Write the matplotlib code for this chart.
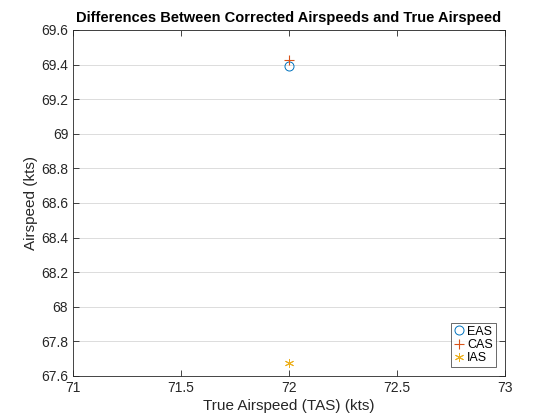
import matplotlib
matplotlib.use("Agg")
import matplotlib.pyplot as plt
from matplotlib.ticker import FuncFormatter, MultipleLocator

plt.rcParams['font.family'] = ['Liberation Sans', 'DejaVu Sans']

tas = [72.0]
eas = [69.39]
cas = [69.425]
ias = [67.675]

fig = plt.figure(figsize=(5.6, 4.2), dpi=100)
ax = fig.add_axes([73/560, 1 - 376/420, (505-73)/560, (376-30)/420])

ax.plot(tas, eas, linestyle='none', marker='o', markersize=6.5, markerfacecolor='none',
        markeredgecolor='#0072BD', markeredgewidth=0.7, label='EAS')
ax.plot(tas, cas, linestyle='none', marker='+', markersize=7, color='#D95319',
        markeredgewidth=0.8, label='CAS')
ax.plot(tas, ias, linestyle='none', marker=(6, 2, 0), markersize=6.5, color='#EDB120',
        markeredgewidth=0.7, label='IAS')

ax.set_xlim(71, 73)
ax.set_ylim(67.6, 69.6)
ax.xaxis.set_major_locator(MultipleLocator(0.5))
ax.yaxis.set_major_locator(MultipleLocator(0.2))
fmt = FuncFormatter(lambda v, p: ('%.1f' % v).rstrip('0').rstrip('.'))
ax.xaxis.set_major_formatter(fmt)
ax.yaxis.set_major_formatter(fmt)
ax.yaxis.grid(True, color='#dcdcdc', linewidth=0.7)
ax.set_axisbelow(True)
ax.tick_params(direction='in', top=True, right=True, labelsize=10, colors='#262626',
               length=4, width=0.6)
for s in ax.spines.values():
    s.set_linewidth(0.6)
    s.set_color('#262626')

ax.set_title('Differences Between Corrected Airspeeds and True Airspeed',
             fontsize=10.5, fontweight='bold', pad=6)
ax.set_xlabel('True Airspeed (TAS) (kts)', fontsize=11, color='#262626', labelpad=3)
ax.set_ylabel('Airspeed (kts)', fontsize=11, color='#262626', labelpad=2)

leg = ax.legend(loc='lower right', fontsize=9, frameon=True, fancybox=False,
                edgecolor='#262626', handlelength=0.9, handletextpad=0.2,
                borderpad=0.25, labelspacing=0.1, borderaxespad=0.7)
leg.get_frame().set_linewidth(0.6)

fig.savefig('out.png', dpi=100)
